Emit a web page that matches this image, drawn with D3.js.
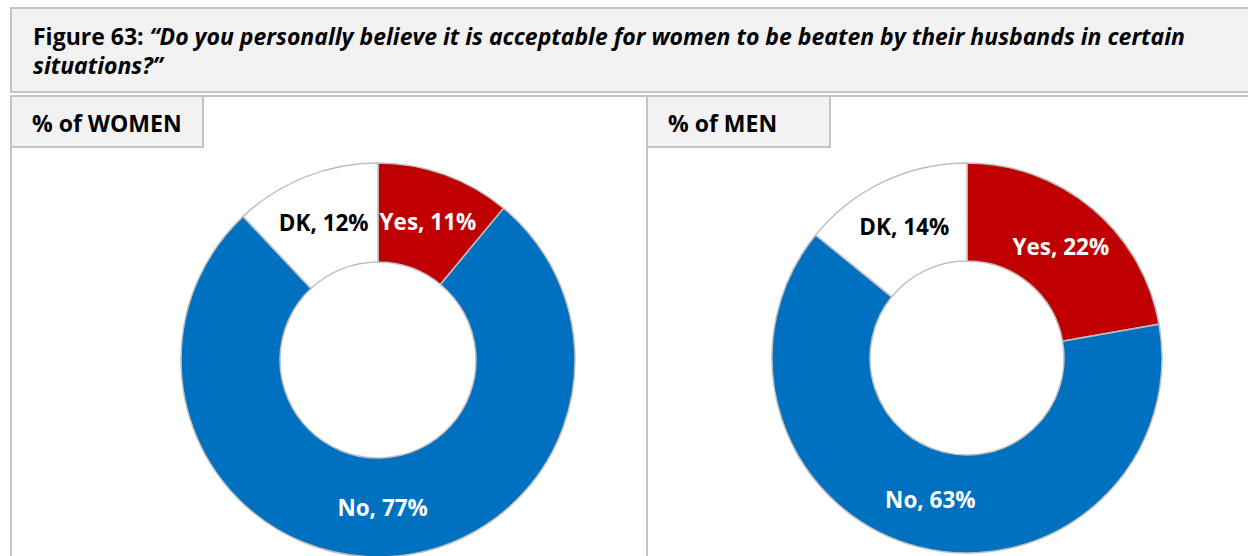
<!DOCTYPE html>
<html>
<head>
<meta charset="utf-8">
<script src="https://cdn.jsdelivr.net/npm/d3@7"></script>
<style>
  html, body { margin: 0; padding: 0; background: #ffffff; }
  svg { display: block; font-family: "Open Sans", Lato, sans-serif; }
</style>
</head>
<body>
<svg id="chart" width="1248" height="556"></svg>
<script>
// Survey answers, in drawing order (clockwise from 12 o'clock)
const categories = ["Yes", "No", "DK"];
const womenValues = [11, 77, 12];
const menValues = [22, 63, 14];
const sliceColors = ["#c00000", "#0070c0", "#ffffff"];
const labelColors = ["#ffffff", "#ffffff", "#000000"];
const panelTitles = ["% of WOMEN", "% of MEN"];
const figureLabel = "Figure 63: ";
const questionLines = [
  "\u201cDo you personally believe it is acceptable for women to be beaten by their husbands in certain",
  "situations?\u201d"
];

const svg = d3.select("#chart");
const W = 1248, H = 556;
const borderColor = "#c4c4c4";
const boxFill = "#f2f2f2";

// Header box holding the figure title
svg.append("rect")
  .attr("x", 11).attr("y", 8).attr("width", W + 20).attr("height", 84)
  .attr("fill", boxFill).attr("stroke", borderColor).attr("stroke-width", 2);

const title = svg.append("text")
  .attr("x", 33).attr("y", 45)
  .attr("font-size", 23).attr("font-weight", "bold").attr("fill", "#000");
title.append("tspan").text(figureLabel);
title.append("tspan").attr("font-style", "italic").text(questionLines[0]);
svg.append("text")
  .attr("x", 33).attr("y", 74)
  .attr("font-size", 23).attr("font-weight", "bold").attr("font-style", "italic")
  .text(questionLines[1]);

// Two panels, each with its own donut
const panels = [
  { x: 11, w: 636, values: womenValues, cx: 378, cy: 360, outer: 197, inner: 98, tabW: 192 },
  { x: 647, w: 640, values: menValues, cx: 967, cy: 358, outer: 195, inner: 97, tabW: 183 }
];

const pie = d3.pie().sort(null).value(d => d.value);

panels.forEach((p, i) => {
  svg.append("rect")
    .attr("x", p.x).attr("y", 96).attr("width", p.w).attr("height", H)
    .attr("fill", "#ffffff").attr("stroke", borderColor).attr("stroke-width", 2);

  svg.append("rect")
    .attr("x", p.x).attr("y", 96).attr("width", p.tabW).attr("height", 51)
    .attr("fill", boxFill).attr("stroke", borderColor).attr("stroke-width", 2);

  svg.append("text")
    .attr("x", p.x + 21).attr("y", 132)
    .attr("font-size", 23).attr("font-weight", "bold").attr("fill", "#000")
    .text(panelTitles[i]);

  const data = categories.map((c, k) => ({ name: c, value: p.values[k], k }));
  const arcs = pie(data);
  const arc = d3.arc().innerRadius(p.inner).outerRadius(p.outer);

  const g = svg.append("g").attr("transform", `translate(${p.cx},${p.cy})`);

  g.selectAll("path")
    .data(arcs)
    .join("path")
    .attr("d", arc)
    .attr("fill", d => sliceColors[d.data.k])
    .attr("stroke", "#bfbfbf")
    .attr("stroke-width", 1.5);

  g.selectAll("text")
    .data(arcs)
    .join("text")
    .attr("transform", d => `translate(${arc.centroid(d)})`)
    .attr("text-anchor", "middle")
    .attr("dominant-baseline", "central")
    .attr("font-size", 22.5)
    .attr("font-weight", "bold")
    .attr("fill", d => labelColors[d.data.k])
    .text(d => `${d.data.name}, ${d.data.value}%`);
});
</script>
</body>
</html>
